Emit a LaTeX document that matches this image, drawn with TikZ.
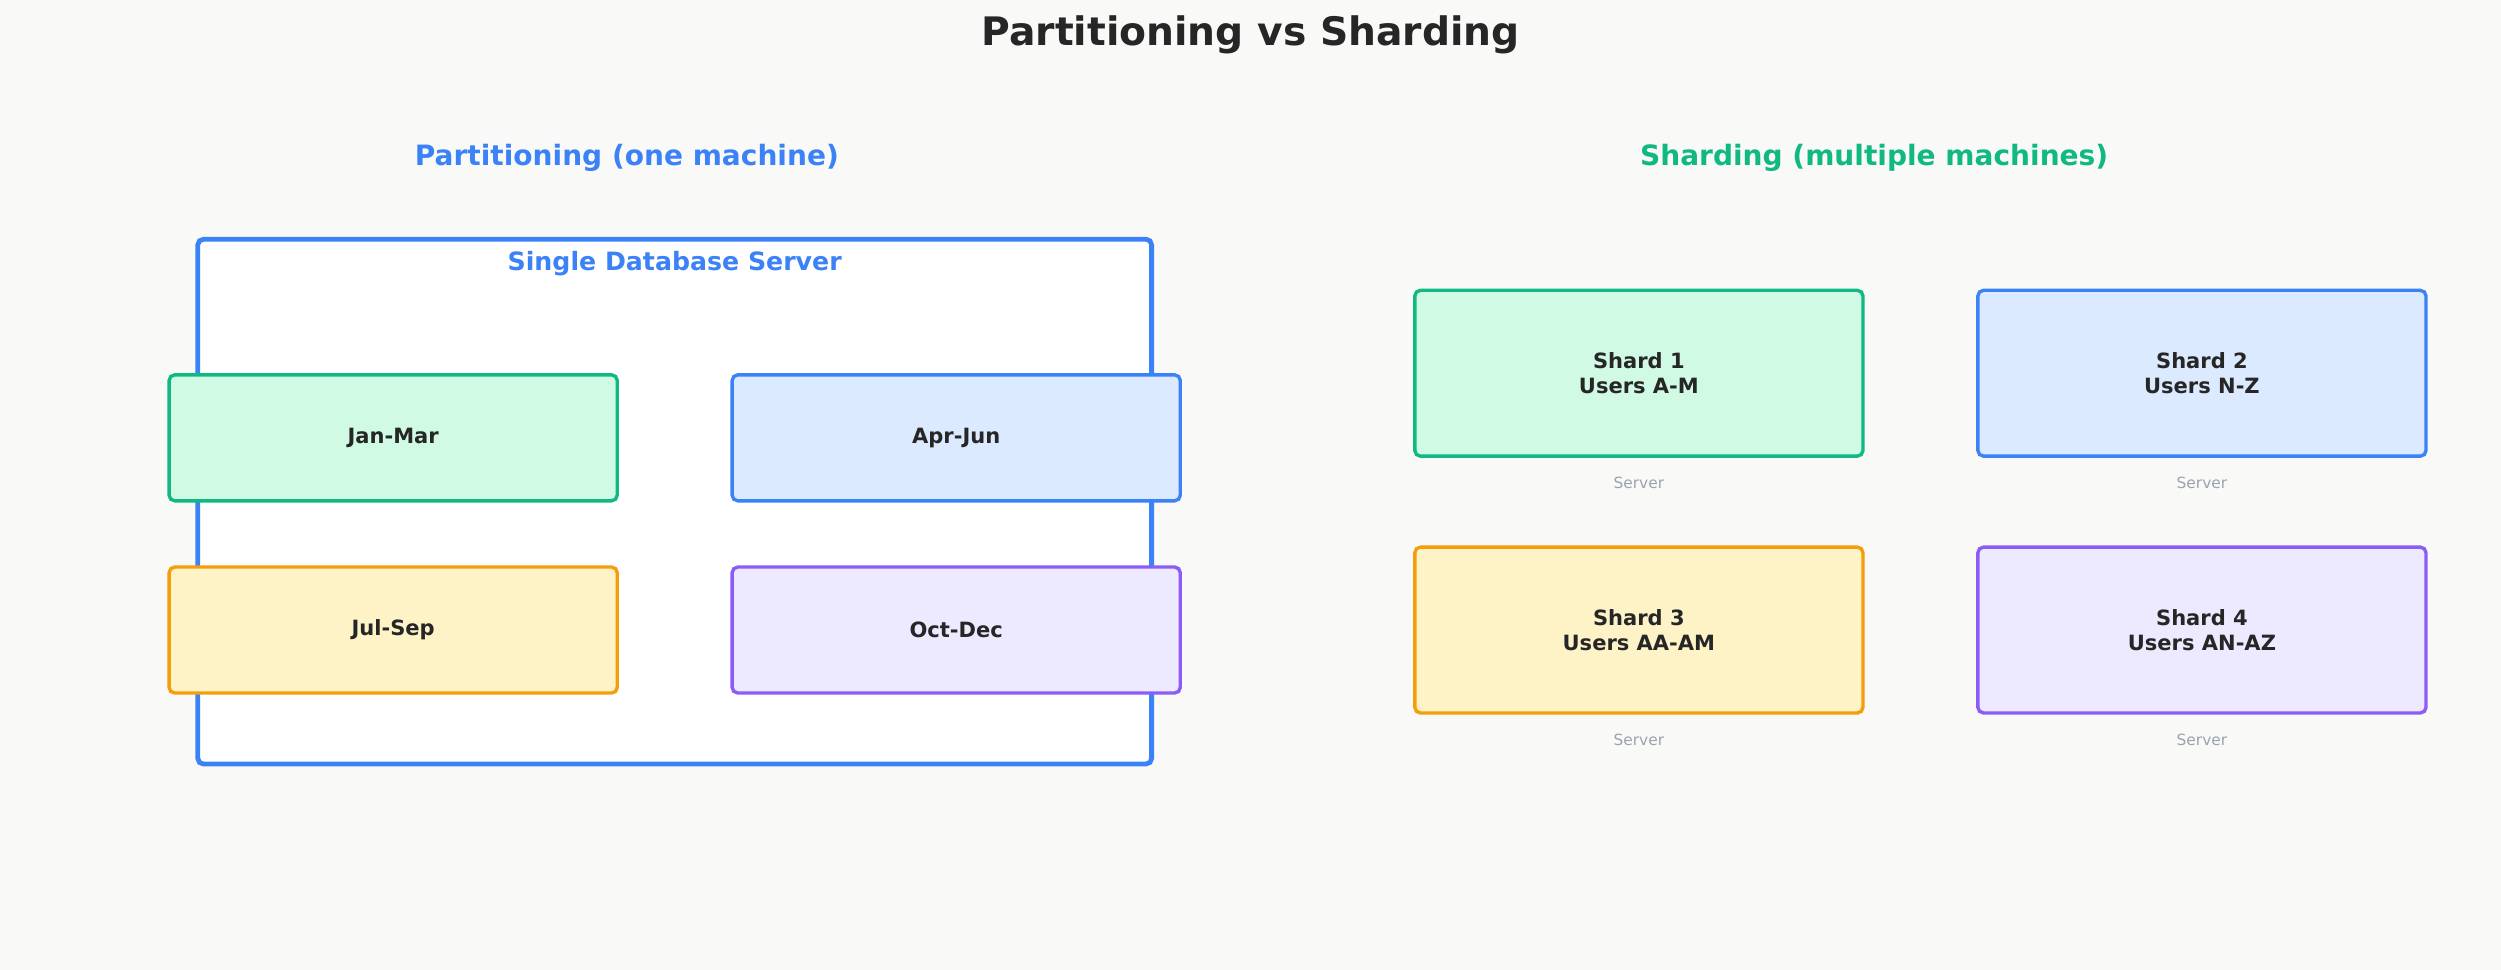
\documentclass[tikz,border=0pt]{standalone}
\usepackage{fontspec}
\setmainfont{DejaVu Sans}
\usetikzlibrary{positioning}
\definecolor{bgc}{HTML}{F9F9F8}
\definecolor{ink}{HTML}{262626}
\definecolor{blueln}{HTML}{3B82F6}
\definecolor{bluefl}{HTML}{DBEAFE}
\definecolor{greenln}{HTML}{10B981}
\definecolor{greenfl}{HTML}{D1FAE5}
\definecolor{amberln}{HTML}{F59E0B}
\definecolor{amberfl}{HTML}{FEF3C7}
\definecolor{purpln}{HTML}{8B5CF6}
\definecolor{purpfl}{HTML}{EDE9FE}
\definecolor{greytx}{HTML}{9CA3AF}
\tikzset{
  part/.style={draw=#1ln, fill=#1fl, line width=1.2pt, rounded corners=2pt,
    minimum width=5.62cm, minimum height=1.58cm, font=\bfseries\fontsize{7.5}{9}\selectfont,
    text=ink, align=center},
  shard/.style={part=#1, minimum height=2.08cm},
  srv/.style={font=\fontsize{5.5}{7}\selectfont, text=greytx},
  heading/.style={font=\bfseries\fontsize{10}{12}\selectfont}
}
\begin{document}
\begin{tikzpicture}[x=0.02cm,y=-0.02cm]
\fill[bgc] (0,0) rectangle (1568,608);
\node[font=\bfseries\fontsize{14}{16}\selectfont, text=ink] (title) at (784,22) {Partitioning vs Sharding};
\node[heading, text=blueln] (lefthead) at (393,99) {Partitioning (one machine)};
\node[heading, text=greenln] (righthead) at (1175,99) {Sharding (multiple machines)};

% one machine
\draw[blueln, fill=white, line width=1.7pt, rounded corners=2pt] (124,150) rectangle (722,479);
\node[font=\bfseries\fontsize{9}{11}\selectfont, text=blueln] (server) at (423,165) {Single Database Server};
\node[part=green] (q1) at (246.5,274.5) {Jan-Mar};
\node[part=blue] (q2) at (599.5,274.5) {Apr-Jun};
\node[part=amber] (q3) at (246.5,395) {Jul-Sep};
\node[part=purp] (q4) at (599.5,395) {Oct-Dec};

% several machines
\node[shard=green] (s1) at (1027.5,234) {Shard 1\\Users A-M};
\node[shard=blue] (s2) at (1380.5,234) {Shard 2\\Users N-Z};
\node[shard=amber] (s3) at (1027.5,395) {Shard 3\\Users AA-AM};
\node[shard=purp] (s4) at (1380.5,395) {Shard 4\\Users AN-AZ};
\foreach \s in {s1,s2,s3,s4}
  \node[srv, below=0.12cm of \s] {Server};
\end{tikzpicture}
\end{document}
